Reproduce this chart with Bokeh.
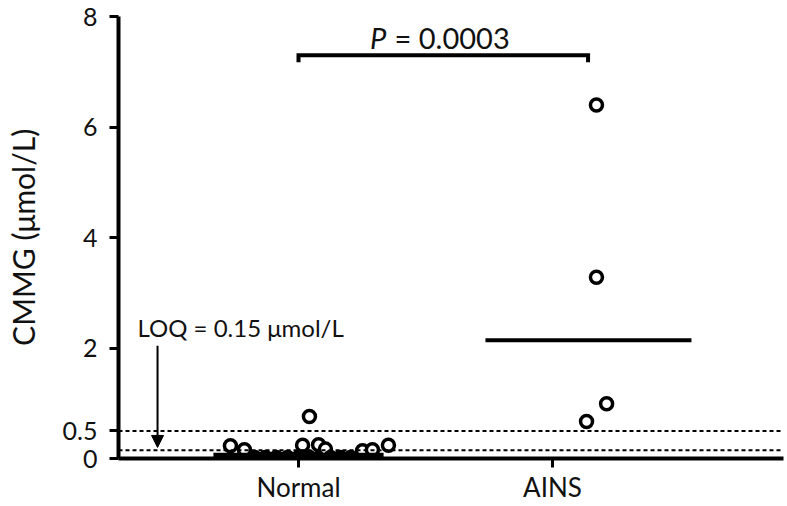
from bokeh.plotting import figure
from bokeh.models import Range1d, FixedTicker, Span, Arrow, NormalHead, Label
from bokeh.embed import file_html
from bokeh.resources import INLINE

# ---- data ----
groups = ["Normal", "AINS"]
group_pos = [1, 2]

normal_values = [0.23, 0.16, 0.02, 0.02, 0.02, 0.02, 0.02, 0.24, 0.02, 0.76,
                 0.02, 0.25, 0.17, 0.02, 0.02, 0.02, 0.14, 0.16, 0.24]
normal_jitter = [-0.268, -0.213, -0.173, -0.130, -0.087, -0.043, 0.000, 0.016, 0.043, 0.043,
                 0.087, 0.079, 0.106, 0.126, 0.165, 0.205, 0.252, 0.291, 0.354]

ains_values = [6.40, 3.28, 0.99, 0.67]
ains_jitter = [0.173, 0.173, 0.213, 0.134]

medians = [0.06, 2.14]
median_start = [-0.335, -0.264]
median_end = [0.335, 0.547]

loq = 0.15
upper_line = 0.5
y_ticks = [0, 0.5, 2, 4, 6, 8]
p_value_text = "= 0.0003"
loq_text = "LOQ = 0.15 \u03bcmol/L"
y_label = "CMMG (\u03bcmol/L)"
bracket_x = [1.0, 2.14]
bracket_y = [7.17, 7.30]

FONT = "Lato"

p = figure(width=787, height=506, output_backend="svg", toolbar_location=None,
           x_range=Range1d(0.2913, 2.9094), y_range=Range1d(0, 8),
           min_border_left=118, min_border_right=4, min_border_top=16, min_border_bottom=48)
p.outline_line_color = None
p.grid.grid_line_color = None
p.background_fill_color = "white"
p.border_fill_color = "white"

# axes
p.xaxis.ticker = FixedTicker(ticks=group_pos)
p.xaxis.major_label_overrides = {pos: g for pos, g in zip(group_pos, groups)}
p.yaxis.ticker = FixedTicker(ticks=y_ticks)
p.yaxis.major_label_overrides = {0: "0", 0.5: "0.5", 2: "2", 4: "4", 6: "6", 8: "8"}
p.yaxis.bounds = (0, 8)
for ax in (p.xaxis, p.yaxis):
    ax.axis_line_width = 4
    ax.axis_line_color = "black"
    ax.major_tick_line_width = 3
    ax.major_tick_line_color = "black"
    ax.major_tick_out = 9
    ax.major_tick_in = 0
    ax.minor_tick_line_color = None
    ax.major_label_text_font = FONT
    ax.major_label_text_color = "#111111"
p.xaxis.major_label_text_font_size = "26px"
p.xaxis.major_label_standoff = 3
p.yaxis.major_label_text_font_size = "25px"
p.yaxis.major_label_standoff = 12
p.yaxis.axis_label = y_label
p.yaxis.axis_label_text_font = FONT
p.yaxis.axis_label_text_font_size = "30px"
p.yaxis.axis_label_text_font_style = "normal"
p.yaxis.axis_label_text_color = "#111111"
p.yaxis.axis_label_standoff = 19

# points
nx = [group_pos[0] + j for j in normal_jitter]
ax_ = [group_pos[1] + j for j in ains_jitter]
p.scatter(nx, normal_values, marker="circle", size=12, fill_color="white",
          line_color="black", line_width=3.5)
p.scatter(ax_, ains_values, marker="circle", size=12, fill_color="white",
          line_color="black", line_width=3.5)

# reference lines
for yv in (upper_line, loq):
    p.add_layout(Span(location=yv, dimension="width", line_color="black",
                      line_width=2, line_dash="4 3"))

# medians
p.segment(x0=[group_pos[0] + median_start[0]], y0=[medians[0]],
          x1=[group_pos[0] + median_end[0]], y1=[medians[0]],
          line_color="black", line_width=5)
p.segment(x0=[group_pos[1] + median_start[1]], y0=[medians[1]],
          x1=[group_pos[1] + median_end[1]], y1=[medians[1]],
          line_color="black", line_width=4)

# significance bracket
p.line([bracket_x[0], bracket_x[0], bracket_x[1], bracket_x[1]],
       [bracket_y[0], bracket_y[1], bracket_y[1], bracket_y[0]],
       line_color="black", line_width=4, line_join="miter")
p.add_layout(Label(x=1.346, y=7.62, text="P", text_font=FONT, text_font_size="29px",
                   text_font_style="italic", text_align="right", text_baseline="alphabetic",
                   text_color="#111111"))
p.add_layout(Label(x=1.378, y=7.62, text=p_value_text, text_font=FONT, text_font_size="29px",
                   text_align="left", text_baseline="alphabetic", text_color="#111111"))

# LOQ annotation
p.add_layout(Label(x=0.366, y=2.37, text=loq_text, text_font=FONT, text_font_size="24px",
                   text_align="left", text_baseline="alphabetic", text_color="#111111"))
p.add_layout(Arrow(x_start=0.445, y_start=2.04, x_end=0.445, y_end=0.2,
                   line_color="black", line_width=2,
                   end=NormalHead(size=12, fill_color="black", line_color="black")))

open("out.html", "w").write(file_html(p, INLINE))
